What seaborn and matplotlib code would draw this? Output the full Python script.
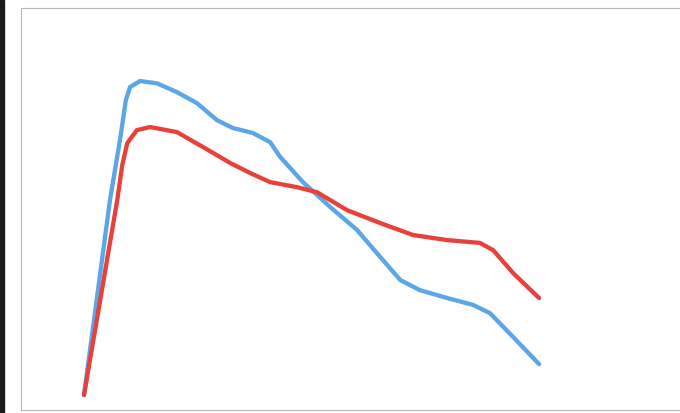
import pandas as pd
import numpy as np
import matplotlib
matplotlib.use('Agg')
import matplotlib.pyplot as plt
import seaborn as sns

# значения (x: 0..100, y: 0..100)
blue_x = [0, 5.7, 7.9, 9.2, 10.1, 12.3, 16.0, 20.4, 24.8, 29.2, 32.7, 37.1, 40.9,
          43.1, 48.1, 54.1, 60.0, 65.1, 69.5, 73.8, 79.8, 85.5, 89.2, 94.3, 100]
blue_y = [0, 61.9, 81.0, 93.7, 97.8, 99.7, 99.0, 96.2, 92.7, 87.3, 84.8, 83.2, 80.3,
          75.6, 67.6, 59.7, 52.4, 43.8, 36.5, 33.3, 30.8, 28.6, 26.0, 18.4, 9.8]

red_x = [0, 7.3, 8.4, 9.5, 11.6, 14.5, 20.4, 26.2, 32.1, 36.5, 40.9, 46.8, 51.2,
         57.8, 65.1, 72.3, 79.8, 87.0, 89.9, 94.3, 100]
red_y = [0, 61.9, 73.0, 80.0, 84.1, 85.1, 83.5, 78.7, 73.7, 70.5, 67.6, 66.0, 64.4,
         58.7, 54.6, 50.8, 49.2, 48.3, 46.0, 38.7, 30.8]

series_names = ['blue', 'red']
colors = ['#5ba6e6', '#e8413a']

df = pd.concat([
    pd.DataFrame({'x': blue_x, 'y': blue_y, 'series': series_names[0]}),
    pd.DataFrame({'x': red_x, 'y': red_y, 'series': series_names[1]}),
])

sns.set_style('white')
fig = plt.figure(figsize=(6.8, 4.13), dpi=100)
# рамка выходит за правый край картинки
ax = fig.add_axes([21 / 680, 3 / 413, 666 / 680, 402 / 413])

sns.lineplot(data=df, x='x', y='y', hue='series', palette=colors, sort=False,
             legend=False, ax=ax, linewidth=3.1, solid_capstyle='round',
             solid_joinstyle='round')

ax.set_xlim(-13.85, 132.5)
ax.set_ylim(-4.76, 122.9)
ax.set_xticks([])
ax.set_yticks([])
ax.set_xlabel('')
ax.set_ylabel('')
for s in ax.spines.values():
    s.set_color('#b8b4bc')
    s.set_linewidth(0.8)

# тёмная полоса слева (как на скане)
fig.patches.append(plt.Rectangle((0, 0), 4 / 680, 1, transform=fig.transFigure,
                                 color='#1a1a1a', zorder=0))

fig.savefig('out.png', dpi=100)
